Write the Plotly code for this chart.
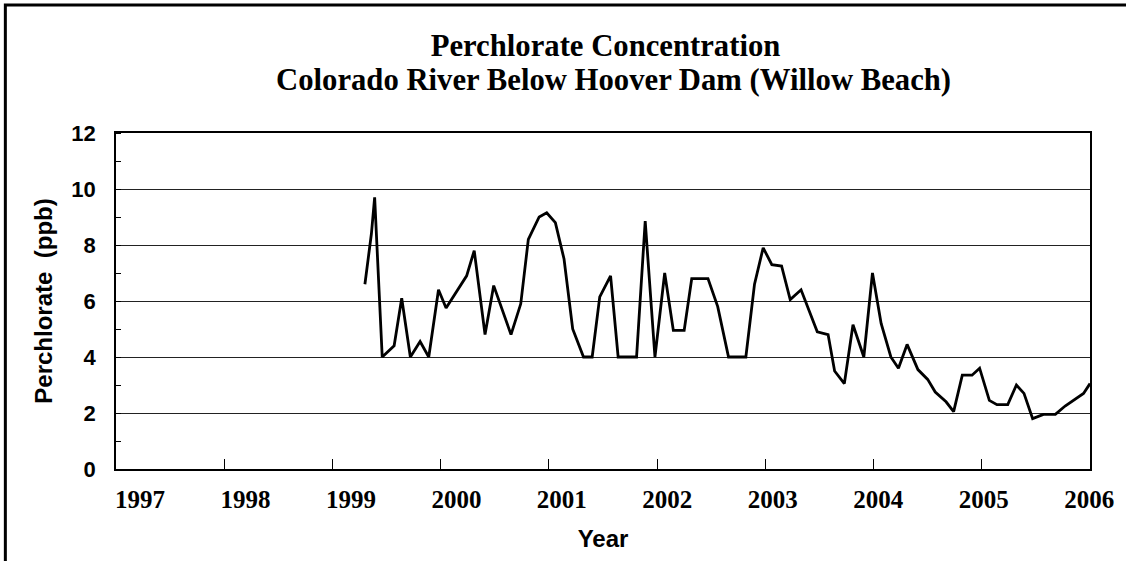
import plotly.graph_objects as go

# Sample dates (decimal years) and perchlorate concentrations (ppb)
years = [1999.30, 1999.32, 1999.36, 1999.39, 1999.41, 1999.46, 1999.57, 1999.64, 1999.72,
         1999.81, 1999.89, 1999.98, 2000.05, 2000.24, 2000.31, 2000.41, 2000.49, 2000.65,
         2000.74, 2000.81, 2000.91, 2000.98, 2001.06, 2001.14, 2001.22, 2001.32, 2001.40,
         2001.47, 2001.57, 2001.64, 2001.81, 2001.89, 2001.98, 2002.07, 2002.15, 2002.25,
         2002.32, 2002.47, 2002.56, 2002.66, 2002.82, 2002.90, 2002.98, 2003.06, 2003.15,
         2003.23, 2003.33, 2003.39, 2003.48, 2003.58, 2003.64, 2003.73, 2003.81, 2003.91,
         2003.99, 2004.07, 2004.16, 2004.23, 2004.31, 2004.41, 2004.50, 2004.57, 2004.67,
         2004.74, 2004.82, 2004.91, 2004.98, 2005.07, 2005.14, 2005.24, 2005.32, 2005.39,
         2005.47, 2005.57, 2005.68, 2005.77, 2005.88, 2005.94, 2006.00]
perchlorate = [6.6, 7.2, 8.4, 9.7, 8.2, 4.0, 4.4, 6.1, 4.0,
               4.55, 4.0, 6.4, 5.75, 6.9, 7.8, 4.8, 6.55, 4.8,
               5.9, 8.2, 9.0, 9.15, 8.8, 7.5, 5.0, 4.0, 4.0,
               6.15, 6.9, 4.0, 4.0, 8.85, 4.0, 7.0, 4.95, 4.95,
               6.8, 6.8, 5.8, 4.0, 4.0, 6.6, 7.9, 7.3, 7.25,
               6.05, 6.4, 5.8, 4.9, 4.8, 3.5, 3.05, 5.15, 4.0,
               7.0, 5.2, 4.0, 3.6, 4.45, 3.55, 3.2, 2.75, 2.4,
               2.05, 3.35, 3.35, 3.6, 2.45, 2.3, 2.3, 3.0, 2.7,
               1.8, 1.95, 1.95, 2.25, 2.55, 2.7, 3.05]

x_ticks = list(range(1997, 2007))
y_ticks = list(range(0, 13, 2))

title_lines = ["Perchlorate Concentration", "Colorado River Below Hoover Dam (Willow Beach)"]
x_title = "Year"
y_title = "Perchlorate  (ppb)"

fig = go.Figure()
fig.add_trace(go.Scatter(x=years, y=perchlorate, mode="lines",
                         line=dict(color="black", width=2.8), showlegend=False,
                         hoverinfo="x+y"))
# invisible helper trace so the label axis is drawn
fig.add_trace(go.Scatter(x=years, y=perchlorate, mode="lines", xaxis="x2",
                         line=dict(color="rgba(0,0,0,0)", width=0), showlegend=False,
                         hoverinfo="skip"))

title_font = dict(family="Liberation Serif", size=30.7, color="black")

fig.update_layout(
    width=1126, height=561,
    margin=dict(l=116, r=33, t=133, b=92),
    paper_bgcolor="white", plot_bgcolor="white",
    title=dict(text="<b>" + title_lines[0] + "</b>",
               x=0.5026, xref="paper", xanchor="center",
               y=1 - 45 / 561, yref="container", yanchor="middle",
               font=title_font),
    annotations=[dict(text="<b>" + title_lines[1] + "</b>", xref="paper", yref="paper",
                      x=0.5107, y=(469 - 80) / 336, xanchor="center", yanchor="middle",
                      showarrow=False, font=title_font)],
    xaxis=dict(range=[1997, 2006], tickvals=x_ticks, ticks="inside", ticklen=10,
               tickcolor="black", tickwidth=1, showticklabels=False,
               showgrid=False, zeroline=False, showline=True, linecolor="black",
               linewidth=1.5, mirror=True,
               title=dict(text="<b>" + x_title + "</b>", standoff=60,
                          font=dict(family="Arial, Liberation Sans", size=24, color="black"))),
    xaxis2=dict(range=[1996.773, 2006.007], overlaying="x", side="bottom", anchor="y",
                tickvals=x_ticks, ticktext=[str(v) for v in x_ticks], ticks="",
                showgrid=False, zeroline=False, showline=False, ticklabelstandoff=13,
                tickfont=dict(family="Liberation Serif", size=25, color="black", weight="bold")),
    yaxis=dict(range=[0, 12], tickvals=y_ticks, ticks="", showgrid=True,
               gridcolor="#222222", gridwidth=1, zeroline=False, showline=True,
               linecolor="black", linewidth=1.5, mirror=True, ticklabelstandoff=14,
               minor=dict(dtick=1, ticks="inside", ticklen=5, tickcolor="black", showgrid=False),
               tickfont=dict(family="Arial, Liberation Sans", size=22, color="black", weight="bold"),
               title=dict(text="<b>" + y_title + "</b>", standoff=12,
                          font=dict(family="Arial, Liberation Sans", size=24, color="black"))),
    shapes=[dict(type="rect", xref="paper", yref="paper",
                 x0=-0.1136, x1=1.06, y0=-0.3, y1=1.381,
                 line=dict(color="black", width=3), layer="above")],
)

fig.write_html("out.html", config={"displayModeBar": False},
               post_script="document.body.style.margin='0px';")
